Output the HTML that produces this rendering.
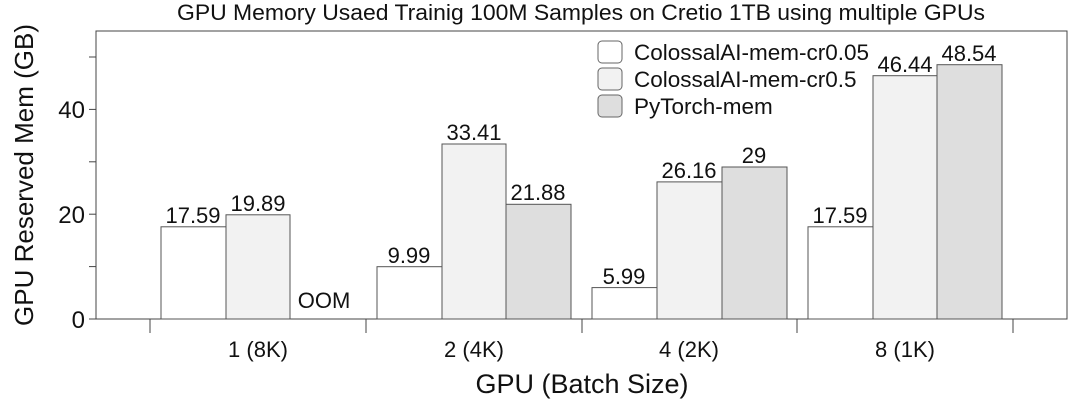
<!DOCTYPE html>
<html><head><meta charset="utf-8"><style>body{margin:0;background:#fff}svg{display:block}text{font-family:"Liberation Sans",Arial,sans-serif;fill:#111}</style></head>
<body>
<svg width="1080" height="402" viewBox="0 0 1080 402">
<text x="581" y="20" font-size="22" text-anchor="middle" textLength="808" lengthAdjust="spacingAndGlyphs">GPU Memory Usaed Trainig 100M Samples on Cretio 1TB using multiple GPUs</text>
<rect x="96" y="31" width="971" height="288" fill="none" stroke="#444" stroke-width="1"/>
<g stroke="#444" stroke-width="1">
<line x1="89" y1="319" x2="96" y2="319"/><line x1="89" y1="266.6" x2="96" y2="266.6"/>
<line x1="89" y1="214.2" x2="96" y2="214.2"/><line x1="89" y1="161.8" x2="96" y2="161.8"/>
<line x1="89" y1="109.4" x2="96" y2="109.4"/><line x1="89" y1="57" x2="96" y2="57"/>
<line x1="150" y1="319" x2="150" y2="333"/><line x1="366" y1="319" x2="366" y2="333"/>
<line x1="582" y1="319" x2="582" y2="333"/><line x1="797" y1="319" x2="797" y2="333"/>
<line x1="1013" y1="319" x2="1013" y2="333"/>
</g>
<g font-size="24" text-anchor="end">
<text x="85" y="328">0</text><text x="85" y="223">20</text><text x="85" y="118">40</text>
</g>
<text transform="translate(33,175) rotate(-90)" font-size="26" text-anchor="middle">GPU Reserved Mem (GB)</text>
<g font-size="22" text-anchor="middle">
<text x="258" y="357">1 (8K)</text><text x="474" y="357">2 (4K)</text>
<text x="689" y="357">4 (2K)</text><text x="905" y="357">8 (1K)</text>
</g>
<text x="582" y="393" font-size="27" text-anchor="middle">GPU (Batch Size)</text>
<g stroke="#555" stroke-width="1">
<rect x="161" y="226.8" width="65" height="92.2" fill="#fff"/>
<rect x="226" y="214.8" width="64" height="104.2" fill="#f2f2f2"/>
<rect x="377" y="266.7" width="65" height="52.3" fill="#fff"/>
<rect x="442" y="144" width="64" height="175" fill="#f2f2f2"/>
<rect x="506" y="204.3" width="65" height="114.7" fill="#dedede"/>
<rect x="592" y="287.6" width="65" height="31.4" fill="#fff"/>
<rect x="657" y="181.9" width="65" height="137.1" fill="#f2f2f2"/>
<rect x="722" y="167" width="65" height="152" fill="#dedede"/>
<rect x="808" y="226.8" width="65" height="92.2" fill="#fff"/>
<rect x="873" y="75.7" width="64" height="243.3" fill="#f2f2f2"/>
<rect x="937" y="64.7" width="65" height="254.3" fill="#dedede"/>
</g>
<g font-size="22" text-anchor="middle">
<text x="193" y="223">17.59</text><text x="258" y="211">19.89</text><text x="324" y="308">OOM</text>
<text x="409" y="263">9.99</text><text x="474" y="140">33.41</text><text x="538" y="200">21.88</text>
<text x="624" y="284">5.99</text><text x="689" y="178">26.16</text><text x="754" y="163">29</text>
<text x="840" y="223">17.59</text><text x="905" y="72">46.44</text><text x="969" y="61">48.54</text>
</g>
<g stroke="#666" stroke-width="1">
<rect x="598" y="41" width="24" height="22" rx="4" fill="#fff"/>
<rect x="598" y="68" width="24" height="22" rx="4" fill="#f2f2f2"/>
<rect x="598" y="95" width="24" height="22" rx="4" fill="#dedede"/>
</g>
<g font-size="22.5">
<text x="634" y="60">ColossalAI-mem-cr0.05</text>
<text x="634" y="87">ColossalAI-mem-cr0.5</text>
<text x="634" y="114">PyTorch-mem</text>
</g>
</svg>
</body></html>
